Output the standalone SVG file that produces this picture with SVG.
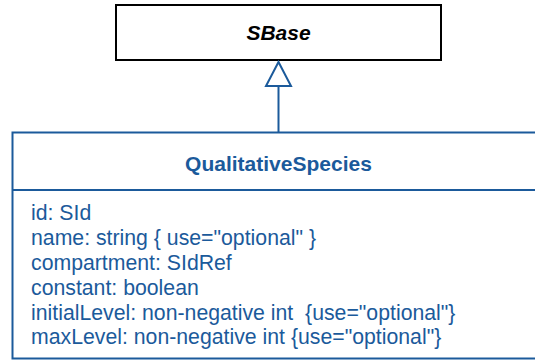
<svg xmlns="http://www.w3.org/2000/svg" width="535" height="360" viewBox="0 0 535 360">
<style>
text{font-family:"Liberation Sans",Arial,sans-serif;}
.blue{fill:#1b5a9b;}
.attr{font-size:21.25px;fill:#1b5a9b;}
</style>
<rect width="535" height="360" fill="#fff"/>
<g id="SBase">
<rect x="116" y="5" width="325" height="55" fill="#fff" stroke="#000" stroke-width="2"/>
<text x="278.5" y="40" font-size="21" font-weight="bold" font-style="italic" text-anchor="middle" fill="#000">SBase</text>
</g>
<g id="connectors">
<line x1="278.5" y1="86" x2="278.5" y2="132" stroke="#1b5a9b" stroke-width="2"/>
<polygon points="278.5,62 266,86 291,86" fill="#fff" stroke="#1b5a9b" stroke-width="2"/>
</g>
<g id="QualitativeSpecies">
<rect x="12.5" y="132.5" width="540" height="226" fill="#fff" stroke="#1b5a9b" stroke-width="2"/>
<line x1="12.5" y1="190" x2="540" y2="190" stroke="#1b5a9b" stroke-width="2"/>
<text x="278.5" y="171" font-size="21" font-weight="bold" text-anchor="middle" class="blue">QualitativeSpecies</text>
<text class="attr" x="31" y="220">id: SId</text>
<text class="attr" x="31" y="245">name: string { use="optional" }</text>
<text class="attr" x="31" y="269.5">compartment: SIdRef</text>
<text class="attr" x="31" y="294.5">constant: boolean</text>
<text class="attr" x="31" y="319.5" xml:space="preserve">initialLevel: non-negative int  {use="optional"}</text>
<text class="attr" x="31" y="344">maxLevel: non-negative int {use="optional"}</text>
</g>
</svg>
